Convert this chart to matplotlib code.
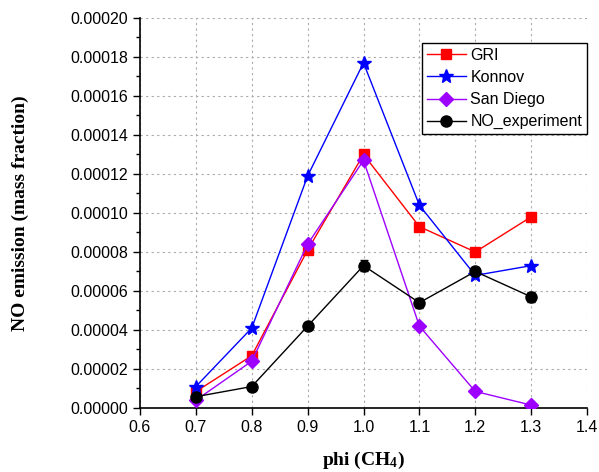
import numpy as np
import matplotlib
matplotlib.use("Agg")
import matplotlib.pyplot as plt
from matplotlib.ticker import MultipleLocator, FormatStrFormatter

phi = [0.7, 0.8, 0.9, 1.0, 1.1, 1.2, 1.3]
gri = [0.0000084, 0.0000268, 0.000081, 0.000130, 0.000093, 0.000080, 0.000098]
konnov = [0.000011, 0.000041, 0.000119, 0.000177, 0.000104, 0.000068, 0.000073]
san_diego = [0.0000040, 0.0000240, 0.000084, 0.000127, 0.000042, 0.0000085, 0.0000015]
no_exp = [0.0000058, 0.000011, 0.000042, 0.000073, 0.000054, 0.000070, 0.000057]
no_err = [0.0000006, 0.000001, 0.0000015, 0.000003, 0.0000025, 0.0000025, 0.0000025]

plt.rcParams['font.family'] = ['Liberation Sans', 'DejaVu Sans']
plt.rcParams['mathtext.default'] = 'regular'

fig = plt.figure(figsize=(5.99, 4.72), dpi=100)
ax = fig.add_axes([0.2337, 0.1356, 0.7463, 0.8263])

ax.plot(phi, gri, color='red', marker='s', markersize=7.5, lw=1, label='GRI', zorder=3)
ax.plot(phi, konnov, color='blue', marker='*', markersize=10, lw=1, label='Konnov', zorder=3)
ax.plot(phi, san_diego, color='#9d00ff', marker='D', markersize=7, lw=1, label='San Diego', zorder=3)
ax.errorbar(phi, no_exp, yerr=no_err, fmt='none', ecolor='black', capsize=3, elinewidth=1, zorder=4)
ax.plot(phi, no_exp, color='black', marker='o', markersize=8, lw=1, label='NO_experiment', zorder=4)

ax.set_xlim(0.6, 1.4)
ax.set_ylim(0, 0.0002)
ax.xaxis.set_major_locator(MultipleLocator(0.1))
ax.yaxis.set_major_locator(MultipleLocator(0.00002))
ax.yaxis.set_minor_locator(MultipleLocator(0.00001))
ax.xaxis.set_major_formatter(FormatStrFormatter('%.1f'))
ax.yaxis.set_major_formatter(FormatStrFormatter('%.5f'))
ax.tick_params(axis='both', which='major', direction='out', length=5, width=1, labelsize=11.5)
ax.tick_params(axis='both', which='minor', direction='out', length=3, width=1)

ax.spines['top'].set_visible(False)
ax.spines['right'].set_visible(False)
ax.spines['left'].set_linewidth(1.2)
ax.spines['bottom'].set_linewidth(1.2)
ax.grid(True, which='major', linestyle=(0, (2, 3)), color='#aaaaaa', lw=0.8)
ax.set_axisbelow(True)

ax.set_xlabel('phi (CH$_4$)', family='Liberation Serif', fontweight='bold', fontsize=14, labelpad=11)
ax.set_ylabel('NO emission (mass fraction)', family='Liberation Serif', fontweight='bold',
              fontsize=14, labelpad=30)

leg = ax.legend(loc='upper right', bbox_to_anchor=(1.0, 0.936), borderaxespad=0,
                fontsize=11.5, fancybox=False, edgecolor='black', framealpha=1,
                handlelength=2.4, labelspacing=0.45, borderpad=0.3, handletextpad=0.3)
leg.get_frame().set_linewidth(1)

plt.savefig("out.png", dpi=100)
plt.close()
